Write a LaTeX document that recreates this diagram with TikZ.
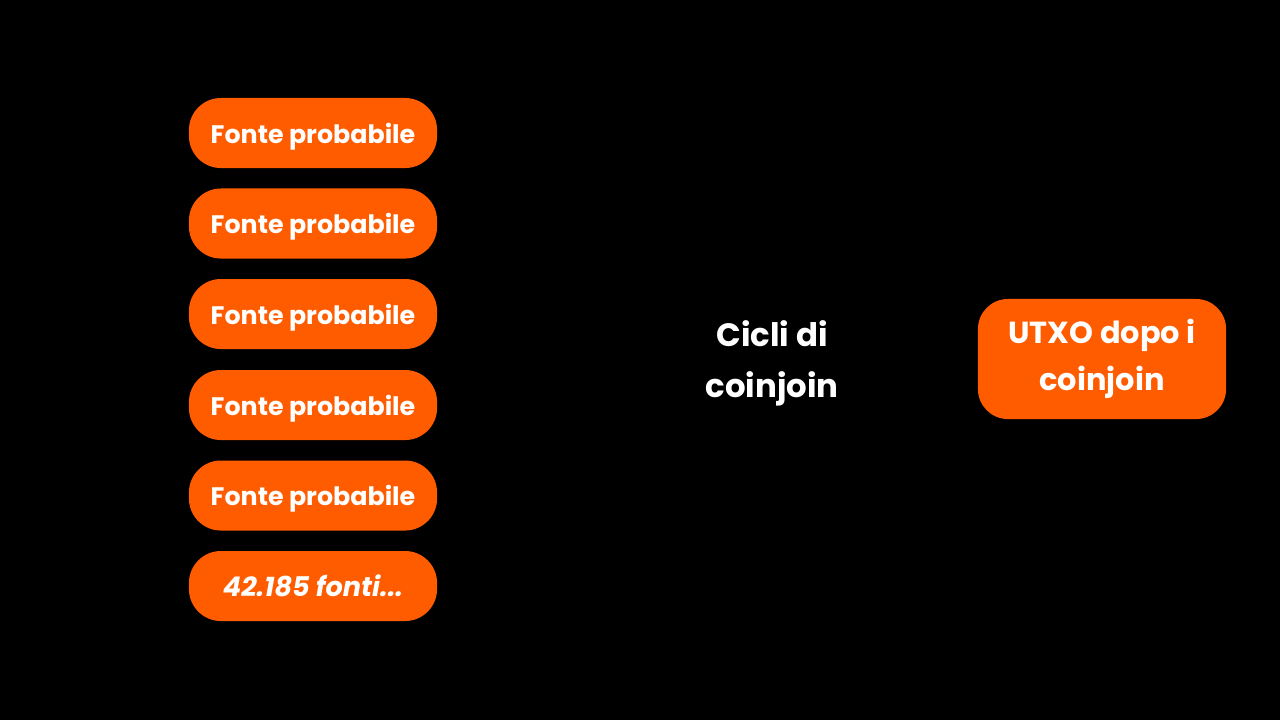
\documentclass[tikz,border=0pt]{standalone}
\usepackage{fontspec}
\setmainfont{Poppins}
\definecolor{btcorange}{HTML}{FF5C00}
\begin{document}
\begin{tikzpicture}[x=0.01cm, y=-0.01cm,
    every node/.style={text=white, font=\bfseries},
    source/.style={fill=btcorange, rounded corners=0.32cm, minimum width=2.48cm, minimum height=0.70cm, inner sep=0pt, text height=0.25cm, text depth=0.05cm, font=\fontsize{7.2}{10}\selectfont\bfseries},
    result/.style={fill=btcorange, rounded corners=0.3cm, minimum width=2.48cm, minimum height=1.20cm, inner sep=0pt, align=center, font=\fontsize{8.65}{13.4}\selectfont\bfseries}]
      \fill[black] (0,0) rectangle (1280,720);
      \useasboundingbox (0,0) rectangle (1280,720);
      \node (s1) at (313,133) [source] {Fonte probabile};
      \node (s2) at (313,223.5) [source] {Fonte probabile};
      \node (s3) at (313,314) [source] {Fonte probabile};
      \node (s4) at (313,405) [source] {Fonte probabile};
      \node (s5) at (313,495.5) [source] {Fonte probabile};
      \node (s6) at (313,586) [source, font=\fontsize{7.7}{10}\selectfont\bfseries\itshape] {42.185 fonti...};
      \node (cycles) at (772,363.5) [align=center, font=\fontsize{9.2}{14.4}\selectfont\bfseries] {Cicli di\\coinjoin};
      \node (utxo) at (1102,359) [result] {UTXO dopo i\\coinjoin};
\end{tikzpicture}
\end{document}
